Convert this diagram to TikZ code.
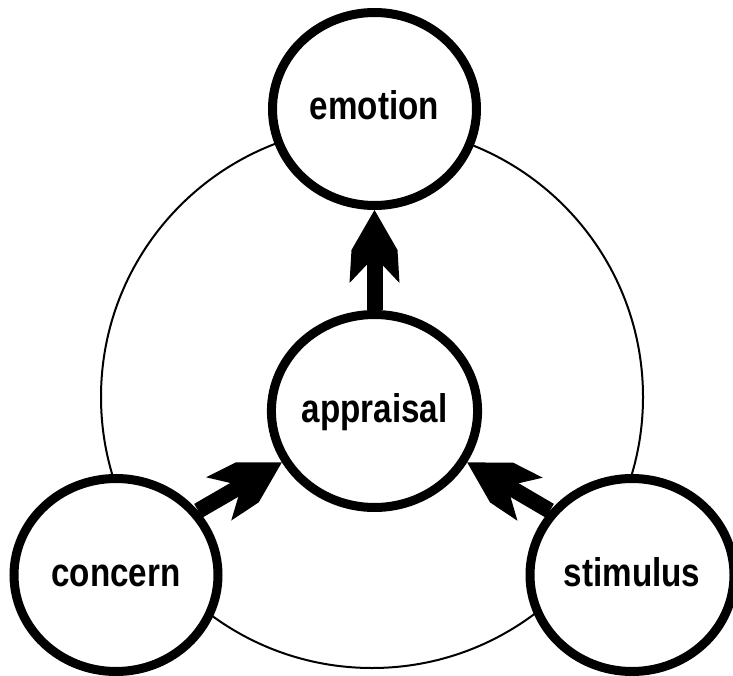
\documentclass[tikz,border=0pt]{standalone}
\usepackage{fontspec}
\newfontfamily\lab[FakeStretch=0.83]{Liberation Sans}
\usetikzlibrary{shapes.geometric,arrows.meta}
\pgfdeclarearrow{
  name=Barb,
  setup code={
    \pgfarrowssettipend{0pt}
    \pgfarrowssetlineend{-50pt}
    \pgfarrowssetvisualbackend{-73pt}
    \pgfarrowssetbackend{-73pt}
    \pgfarrowsupperhullpoint{0pt}{0pt}
    \pgfarrowsupperhullpoint{-40pt}{23pt}
    \pgfarrowsupperhullpoint{-73pt}{25pt}
  },
  drawing code={
    \pgfpathmoveto{\pgfqpoint{0pt}{0pt}}
    \pgfpathlineto{\pgfqpoint{-40pt}{23pt}}
    \pgfpathlineto{\pgfqpoint{-73pt}{25pt}}
    \pgfpathlineto{\pgfqpoint{-55pt}{8pt}}
    \pgfpathlineto{\pgfqpoint{-55pt}{-8pt}}
    \pgfpathlineto{\pgfqpoint{-73pt}{-25pt}}
    \pgfpathlineto{\pgfqpoint{-40pt}{-23pt}}
    \pgfpathclose
    \pgfusepathqfill
  }
}
\tikzset{
  ring/.style={ellipse, draw, line width=9pt, fill=white,
    minimum width=204pt, minimum height=193pt, inner sep=0pt,
    text height=22pt, text depth=0pt,
    font=\lab\bfseries\fontsize{40}{40}\selectfont},
  loopline/.style={circle, draw, line width=2pt, minimum size=542pt, inner sep=0pt},
  bigarrow/.style={line width=16pt, -{Barb[]}},
}
\begin{document}
\begin{tikzpicture}[x=1pt,y=-1pt]
\useasboundingbox (0,0) rectangle (733,676);
\node[loopline] (loop) at (372,397) {};
\node[ring] (emotion) at (374.5,109) {emotion};
\node[ring] (appraisal) at (374.5,411) {appraisal};
\node[ring] (concern) at (116,575) {concern};
\node[ring] (stimulus) at (632,575) {stimulus};
\draw[bigarrow] (appraisal) -- (emotion);
\draw[bigarrow] (concern.38) -- (appraisal.209);
\draw[bigarrow] (stimulus.142) -- (appraisal.331);
\end{tikzpicture}
\end{document}
